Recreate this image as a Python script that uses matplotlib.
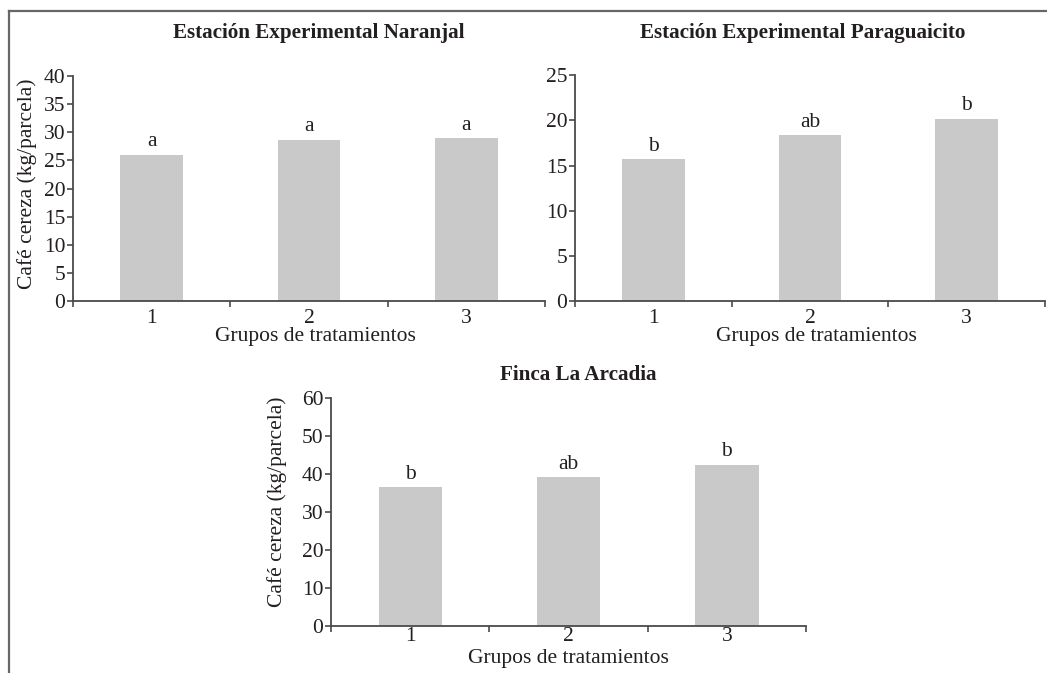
import matplotlib
matplotlib.use("Agg")
import matplotlib.pyplot as plt
from matplotlib.lines import Line2D

# Data
grupos = ["1", "2", "3"]
naranjal = [26.0, 28.7, 29.0]
naranjal_letras = ["a", "a", "a"]
paraguaicito = [15.7, 18.4, 20.2]
paraguaicito_letras = ["b", "ab", "b"]
arcadia = [36.4, 39.2, 42.4]
arcadia_letras = ["b", "ab", "b"]

titulos = ["Estación Experimental Naranjal",
           "Estación Experimental Paraguaicito",
           "Finca La Arcadia"]
xlabel = "Grupos de tratamientos"
ylabel = "Café cereza (kg/parcela)"

W, H = 1047, 673
TXT = "#231f20"
AXC = "#4a4a4a"
BAR = "#c9c9c9"
FS = 15.5
FS_T = 15.2

plt.rcParams["font.family"] = ["Liberation Serif", "DejaVu Serif"]
plt.rcParams["text.color"] = TXT

fig = plt.figure(figsize=(W / 100, H / 100), dpi=100)


def px_axes(left, right, top, bottom):
    return fig.add_axes([left / W, 1 - bottom / H, (right - left) / W, (bottom - top) / H])


def fig_text(x, y, s, **kw):
    fig.text(x / W, 1 - y / H, s, ha="center", va="center", **kw)


def panel(ax, values, letters, ymax, step, xpad):
    xs = list(range(1, len(values) + 1))
    ax.bar(xs, values, width=0.4, color=BAR, edgecolor="none", zorder=2)
    for x, v, l in zip(xs, values, letters):
        ax.annotate(l, (x, v), xytext=(0, 6), textcoords="offset points",
                    ha="center", va="baseline", fontsize=FS, color=TXT)
    ax.set_xlim(0.5, len(values) + 0.5)
    ax.set_ylim(0, ymax)
    ax.set_yticks(range(0, ymax + 1, step))
    ax.set_xticks(xs)
    ax.set_xticklabels(grupos)
    ax.set_xticks([i + 0.5 for i in range(0, len(values) + 1)], minor=True)
    ax.tick_params(axis="x", which="major", length=0, pad=xpad, labelsize=FS, labelcolor=TXT)
    ax.tick_params(axis="x", which="minor", length=4, width=1.2, color=AXC, direction="out")
    ax.tick_params(axis="y", length=4, width=1.2, color=AXC, direction="out",
                   pad=1.5, labelsize=FS, labelcolor=TXT)
    for s in ("top", "right"):
        ax.spines[s].set_visible(False)
    for s in ("left", "bottom"):
        ax.spines[s].set_color(AXC)
        ax.spines[s].set_linewidth(1.3)
    ax.patch.set_alpha(0)


ax1 = px_axes(73, 545, 76, 301)
panel(ax1, naranjal, naranjal_letras, 40, 5, xpad=5.5)
ax2 = px_axes(575, 1045, 75.3, 301)
panel(ax2, paraguaicito, paraguaicito_letras, 25, 5, xpad=5.5)
ax3 = px_axes(331, 806, 397.7, 626)
panel(ax3, arcadia, arcadia_letras, 60, 10, xpad=0.5)

# Panel titles and axis labels
fig_text(319, 33, titulos[0], fontsize=FS_T, fontweight="bold")
fig_text(803, 33, titulos[1], fontsize=FS_T, fontweight="bold")
fig_text(578, 375, titulos[2], fontsize=FS_T, fontweight="bold")

fig_text(315, 337, xlabel, fontsize=FS)
fig_text(816, 337, xlabel, fontsize=FS)
fig_text(568.5, 658, xlabel, fontsize=FS)

fig_text(27.5, 183.5, ylabel, fontsize=FS, rotation=90)
fig_text(277, 502, ylabel, fontsize=FS, rotation=90)

# Outer frame (top and left edges)
fig.add_artist(Line2D([9 / W, 1.0], [1 - 11 / H, 1 - 11 / H], color="#666666", lw=1.6))
fig.add_artist(Line2D([9 / W, 9 / W], [1 - 11 / H, 0.0], color="#666666", lw=1.6))

fig.savefig("out.png", dpi=100, facecolor="white")
